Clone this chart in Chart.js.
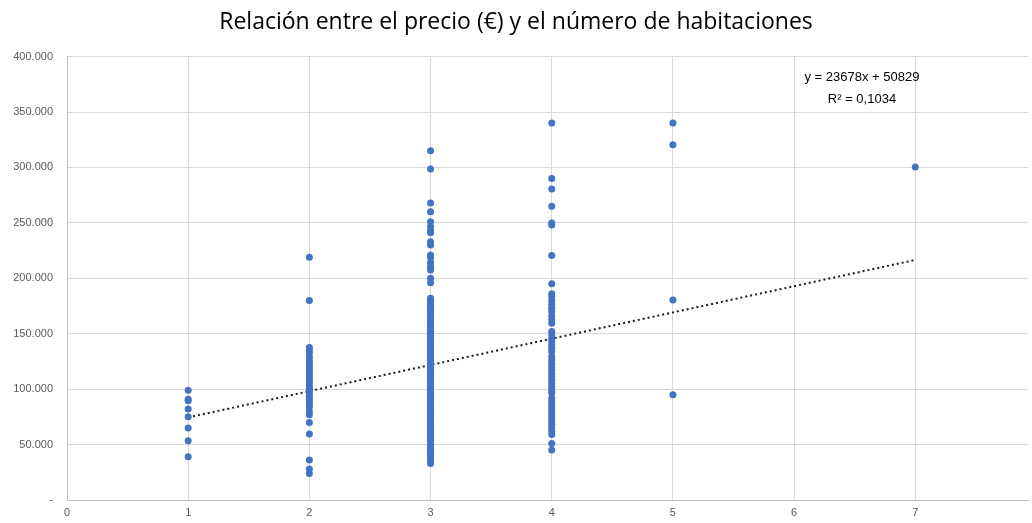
<!DOCTYPE html>
<html>
<head>
<meta charset="utf-8">
<script src="https://cdn.jsdelivr.net/npm/chart.js@4/dist/chart.umd.min.js"></script>
<style>
  html, body { margin: 0; padding: 0; background: #fff; }
  #wrap { width: 1032px; height: 523px; }
</style>
</head>
<body>
<div id="wrap"><canvas id="myChart"></canvas></div>
<script>
// Precio (€) por número de habitaciones
const rooms = [1, 2, 3, 4, 5, 7];
const prices1 = [99000, 91000, 89500, 82000, 75000, 65000, 53500, 39000];
const prices2 = [219000, 180000, 137500, 135000, 132500, 129000, 126000, 124000, 121500, 119000, 117000,
  114500, 112000, 110000, 107500, 105000, 102500, 100000, 98000, 96000, 93500, 91000, 88500, 86000,
  84000, 80000, 77000, 70000, 59500, 36000, 28000, 24000];
const prices3 = [315000, 298500, 268000, 260000, 251000, 246500, 243000, 241000, 233000, 230000,
  221000, 218500, 214000, 210500, 207500, 200000, 196000, 182000, 180000, 178500, 176000, 174500,
  172000, 170000, 168000, 165500, 163000, 160500, 158000, 156500, 154000, 152000, 150000, 148500,
  146000, 144000, 142500, 140000, 138000, 136500, 134000, 132000, 130500, 128000, 126000, 124500,
  122000, 120000, 118500, 116000, 114000, 112500, 110000, 108000, 106500, 104000, 102000, 100500,
  98000, 96000, 94500, 92000, 90000, 88500, 86000, 84000, 82500, 80000, 78000, 76500, 74000, 72000,
  70500, 68000, 66000, 64500, 62000, 60000, 58500, 56000, 54000, 52500, 50000, 48000, 46500, 44000,
  42000, 40500, 38000, 36000, 33000];
const prices4 = [340000, 290000, 280500, 265000, 250000, 248000, 220500, 195000, 186000, 183500,
  180000, 176500, 173000, 170000, 166000, 162500, 159500, 152000, 149000, 146000, 143000, 140000,
  137000, 134000, 129500, 126000, 123000, 120000, 117000, 114000, 111000, 108000, 105000, 102000,
  99000, 96500, 92000, 89000, 86000, 83000, 80000, 77000, 74000, 71000, 68000, 65000, 62000, 59000,
  51000, 45000];
const prices5 = [340000, 320500, 180500, 95000];
const prices7 = [300500];
const allPrices = [prices1, prices2, prices3, prices4, prices5, prices7];

// Línea de tendencia lineal (Excel)
const slope = 23678;
const intercept = 50829;
const r2Label = 'R² = 0,1034';
const eqLabel = 'y = 23678x + 50829';

const xTicks = [0, 1, 2, 3, 4, 5, 6, 7];
const yTicks = [0, 50000, 100000, 150000, 200000, 250000, 300000, 350000, 400000];

const points = [];
rooms.forEach((r, i) => {
  allPrices[i].forEach(p => points.push({ x: r, y: p }));
});

const trendX = [1, 7];
const trend = trendX.map(x => ({ x: x, y: slope * x + intercept }));

const fmt = v => v === 0 ? '-' : v.toLocaleString('de-DE');

const equationPlugin = {
  id: 'equation',
  afterDatasetsDraw(chart) {
    const ctx = chart.ctx;
    const xs = chart.scales.x, ys = chart.scales.y;
    const cx = xs.getPixelForValue(6.56);
    ctx.save();
    ctx.fillStyle = '#000';
    ctx.font = '13px "Liberation Sans", Arial, sans-serif';
    ctx.textAlign = 'center';
    ctx.textBaseline = 'middle';
    ctx.fillText(eqLabel, cx, ys.getPixelForValue(381000));
    ctx.fillText(r2Label, cx, ys.getPixelForValue(361000));
    ctx.restore();
  }
};

const ctx = document.getElementById('myChart').getContext('2d');
new Chart(ctx, {
  type: 'scatter',
  data: {
    datasets: [{
      label: 'Precio',
      data: points,
      backgroundColor: '#4472C4',
      borderColor: '#4472C4',
      pointRadius: 3.5,
      pointBorderWidth: 0
    }, {
      type: 'line',
      label: 'Tendencia',
      data: trend,
      borderColor: '#1a1a1a',
      borderWidth: 2,
      borderDash: [2, 3],
      pointRadius: 0,
      fill: false
    }]
  },
  options: {
    responsive: true,
    maintainAspectRatio: false,
    animation: false,
    layout: { padding: { left: 0, right: 0, top: 0, bottom: 0 } },
    plugins: {
      legend: { display: false },
      tooltip: { enabled: false },
      title: {
        display: true,
        text: 'Relación entre el precio (€) y el número de habitaciones',
        color: '#000',
        font: { family: '"Open Sans", "Liberation Sans", sans-serif', size: 23, weight: 'normal' },
        padding: { top: 9, bottom: 20 }
      }
    },
    scales: {
      x: {
        type: 'linear',
        min: 0,
        max: 7.93,
        afterBuildTicks: axis => { axis.ticks = xTicks.map(v => ({ value: v })); },
        afterFit: axis => { axis.height = 23; },
        ticks: {
          color: '#595959',
          font: { family: '"Liberation Sans", Arial, sans-serif', size: 11 },
          padding: 6
        },
        grid: { color: '#d9d9d9', drawTicks: false },
        border: { color: '#bfbfbf' }
      },
      y: {
        min: 0,
        max: 400000,
        afterBuildTicks: axis => { axis.ticks = yTicks.map(v => ({ value: v })); },
        afterFit: axis => { axis.width = 67; },
        ticks: {
          color: '#595959',
          font: { family: '"Liberation Sans", Arial, sans-serif', size: 11 },
          padding: 14,
          callback: v => fmt(v)
        },
        grid: { color: '#d9d9d9', drawTicks: false },
        border: { color: '#bfbfbf' }
      }
    }
  },
  plugins: [equationPlugin]
});
</script>
</body>
</html>
